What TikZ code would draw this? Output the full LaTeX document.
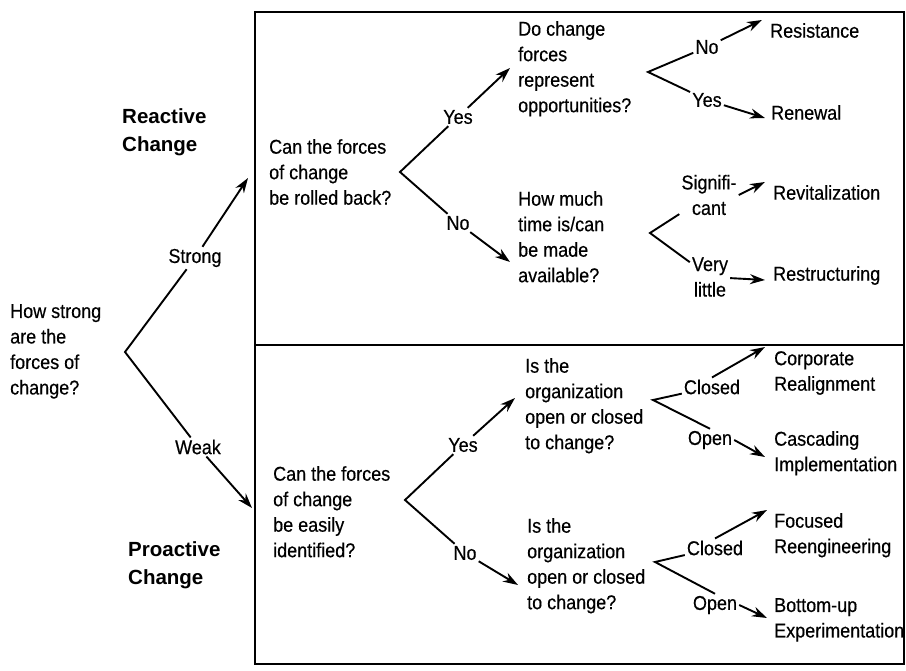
\documentclass[tikz,border=0pt]{standalone}
\usepackage{fontspec}
\setmainfont{Liberation Sans}[FakeStretch=0.9, FakeBold=0.4]
\newfontfamily\headfont{Liberation Sans}
\usetikzlibrary{arrows.meta}
\tikzset{
  txt/.style={anchor=north west, inner sep=0pt, align=left,
    font=\fontsize{20}{25.5}\selectfont},
  head/.style={anchor=north west, inner sep=0pt, align=left,
    font=\headfont\bfseries\fontsize{20.5}{28}\selectfont},
  lbl/.style={inner sep=2pt, align=center,
    font=\fontsize{20}{25.5}\selectfont},
  branch/.style={line width=1.9pt, line join=miter},
  arr/.style={line width=1.9pt, -{Stealth[length=15pt,width=10pt]}},
  frame/.style={line width=2.4pt}
}
\begin{document}
\begin{tikzpicture}[x=1pt,y=-1pt]
\useasboundingbox (0,0) rectangle (906,671);

% frames of the two regions
\draw[frame] (255,12) rectangle (904,664);
\draw[frame] (255,345) -- (904,345);

% headings
\node[head] (hR) at (122,108) {Reactive\\Change};
\node[head] (hP) at (128,541) {Proactive\\Change};

% questions
\node[txt] (q0) at (10,304) {How strong\\are the\\forces of\\change?};
\node[txt] (q1) at (269,139) {Can the forces\\of change\\be rolled back?};
\node[txt] (q2) at (518,21) {Do change\\forces\\represent\\opportunities?};
\node[txt] (q3) at (518,191) {How much\\time is/can\\be made\\available?};
\node[txt] (q4) at (273,466) {Can the forces\\of change\\be easily\\identified?};
\node[txt] (q5) at (525,358) {Is the\\organization\\open or closed\\to change?};
\node[txt] (q6) at (527,518) {Is the\\organization\\open or closed\\to change?};

% outcomes
\node[txt] (oRes) at (770,23) {Resistance};
\node[txt] (oRen) at (771,105) {Renewal};
\node[txt] (oRev) at (773,185) {Revitalization};
\node[txt] (oRst) at (773,266) {Restructuring};
\node[txt] (oCR) at (774,351) {Corporate\\Realignment};
\node[txt] (oCI) at (774,431) {Cascading\\Implementation};
\node[txt] (oFR) at (774,513) {Focused\\Reengineering};
\node[txt] (oBE) at (774,598) {Bottom-up\\Experimentation};

% branch labels
\node[lbl] (lS) at (195,258) {Strong};
\node[lbl] (lW) at (198,447) {Weak};
\node[lbl] (lY1) at (458,117) {Yes};
\node[lbl] (lN1) at (458,223) {No};
\node[lbl] (lN2) at (707,47) {No};
\node[lbl] (lY2) at (707,100) {Yes};
\node[lbl] (lSig) at (709,195) {Signifi-\\cant};
\node[lbl] (lVL) at (710,277) {Very\\little};
\node[lbl] (lY4) at (463,445) {Yes};
\node[lbl] (lN4) at (465,553) {No};
\node[lbl] (lC5) at (712,387) {Closed};
\node[lbl] (lO5) at (710,440) {Open};
\node[lbl] (lC6) at (715,548) {Closed};
\node[lbl] (lO6) at (715,605) {Open};

% fork vertices
\coordinate (v0) at (125,352);
\coordinate (v1) at (400,172);
\coordinate (v2) at (648,72);
\coordinate (v3) at (650,233);
\coordinate (v4) at (405,500);
\coordinate (v5) at (653,400);
\coordinate (v6) at (655,562);

% arrow ends
\coordinate (tS) at (248,178);
\coordinate (tW) at (252,508);
\coordinate (tY1) at (510,68);
\coordinate (tN1) at (510,262);
\coordinate (tN2) at (762,20);
\coordinate (tY2) at (765,118);
\coordinate (tSig) at (765,182);
\coordinate (tVL) at (765,280);
\coordinate (tY4) at (515,398);
\coordinate (tN4) at (518,585);
\coordinate (tC5) at (765,347);
\coordinate (tO5) at (765,457);
\coordinate (tC6) at (767,510);
\coordinate (tO6) at (767,618);

% strength of forces
\draw[branch] (lS) -- (v0) -- (lW);
\draw[arr] (lS) -- (tS);
\draw[arr] (lW) -- (tW);

% reactive branch
\draw[branch] (lY1) -- (v1) -- (lN1);
\draw[arr] (lY1) -- (tY1);
\draw[arr] (lN1) -- (tN1);

\draw[branch] (lN2) -- (v2) -- (lY2);
\draw[arr] (lN2) -- (tN2);
\draw[arr] (lY2) -- (tY2);

\draw[branch] (lSig) -- (v3) -- (lVL);
\draw[arr] (lSig.east) -- (tSig);
\draw[arr] (lVL) -- (tVL);

% proactive branch
\draw[branch] (lY4) -- (v4) -- (lN4);
\draw[arr] (lY4) -- (tY4);
\draw[arr] (lN4) -- (tN4);

\draw[branch] (lC5) -- (v5) -- (lO5.north);
\draw[arr] (lC5.north) -- (tC5);
\draw[arr] (lO5.east) -- (tO5);

\draw[branch] (lC6) -- (v6) -- (lO6.north);
\draw[arr] (lC6.north) -- (tC6);
\draw[arr] (lO6.east) -- (tO6);
\end{tikzpicture}
\end{document}
